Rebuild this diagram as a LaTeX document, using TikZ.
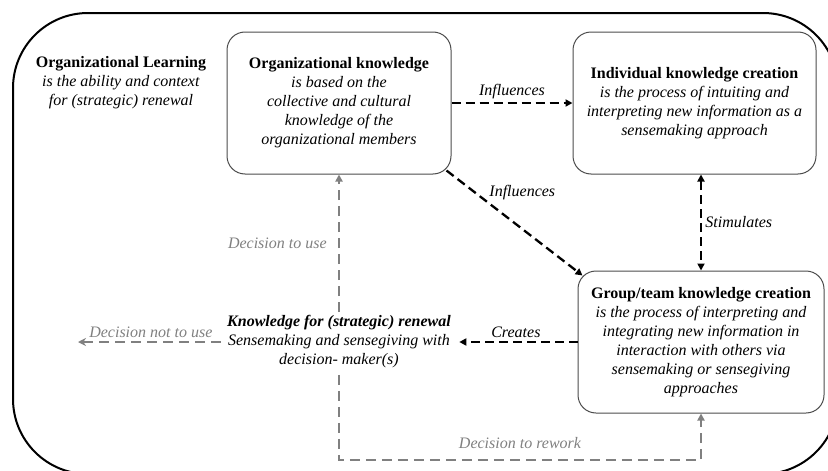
\documentclass[tikz,border=0pt]{standalone}
\usepackage{fontspec}
\setmainfont{Liberation Serif}
\usetikzlibrary{arrows.meta,positioning}
\definecolor{boxline}{gray}{0.3}
\definecolor{decgrey}{gray}{0.5}
\tikzset{
  txt/.style={font=\fontsize{16}{19}\selectfont},
  lbl/.style={font=\fontsize{16}{19}\selectfont\itshape},
  glbl/.style={lbl, text=decgrey},
  kbox/.style={txt, draw=boxline, line width=1pt, rounded corners=18pt,
    minimum height=142pt, align=center},
  blackdash/.style={line width=2.3pt, dash pattern=on 9pt off 5pt,
    -{Triangle[length=7pt,width=7pt]}},
  greydash/.style={draw=decgrey, line width=2pt, dash pattern=on 10pt off 6pt,
    -{Triangle[length=7pt,width=7pt]}}
}
\begin{document}
\begin{tikzpicture}[x=1pt,y=-1pt]
\useasboundingbox (0,0) rectangle (828,471);
\clip (0,0) rectangle (828,471);
% outer frame
\draw[line width=2pt, rounded corners=75pt] (13,13) rectangle (838,474);

\node[txt, align=center] (learn) at (121,83)
  {\textbf{Organizational Learning}\\\textit{is the ability and context}\\\textit{for (strategic) renewal}};

% knowledge boxes
\node[kbox, minimum width=224pt] (orgk) at (339,103)
  {\textbf{Organizational knowledge}\\\textit{is based on the}\\\textit{collective and cultural}\\\textit{knowledge of the}\\\textit{organizational members}};
\node[kbox, minimum width=243pt] (indiv) at (694.5,103)
  {\textbf{Individual knowledge creation}\\\textit{is the process of intuiting and}\\\textit{interpreting new information as a}\\\textit{sensemaking approach}};
\node[kbox, minimum width=246pt] (group) at (701,342)
  {\textbf{Group/team knowledge creation}\\\textit{is the process of interpreting and}\\\textit{integrating new information in}\\\textit{interaction with others via}\\\textit{sensemaking or sensegiving}\\\textit{approaches}};
\node[lbl, align=center] (renew) at (339,342)
  {\textbf{Knowledge for (strategic) renewal}\\Sensemaking and sensegiving with\\decision- maker(s)};

\coordinate (gone) at (78,342);
\coordinate (rwk) at (520,460);

% black connectors
\draw[blackdash] (orgk) -- node[lbl, above] {Influences} (indiv);
\draw[blackdash] ([xshift=-5pt,yshift=4pt]orgk.south east) --
  node[lbl, pos=0.3, anchor=south west, inner sep=1pt] {Influences}
  ([xshift=5pt,yshift=-5pt]group.north west);
\draw[blackdash, {Triangle[length=7pt,width=7pt]}-{Triangle[length=7pt,width=7pt]}]
  (indiv.south -| group.north) -- node[lbl, right] {Stimulates} (group.north);
\draw[blackdash, shorten >=5pt] (group) -- node[lbl, above] {Creates} (renew);

% grey decisions
\draw[greydash] (renew.north) -- node[glbl, left=8pt] {Decision to use} (orgk.south);
\draw[greydash, -{Stealth[length=8pt,width=8pt]}, shorten <=3pt] (renew.west) --
  node[glbl, above] {Decision not to use} (gone);
\draw[greydash, shorten <=3pt] (renew.south) |- (rwk) node[glbl, above=7pt] {Decision to rework}
  -| (group.south);
\end{tikzpicture}
\end{document}
